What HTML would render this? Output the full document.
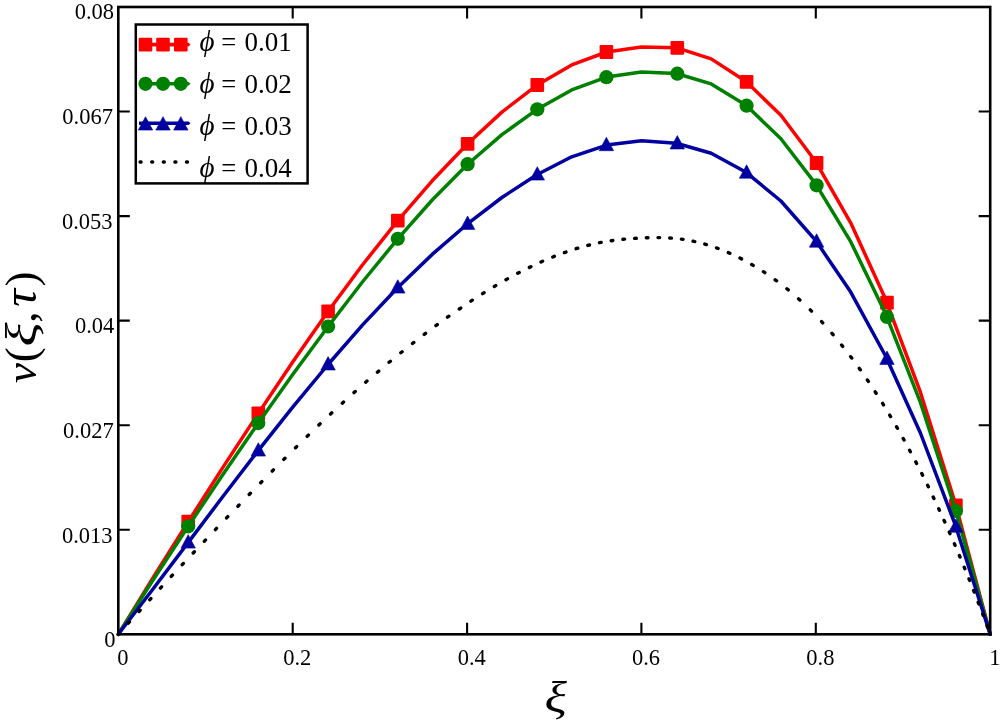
<!DOCTYPE html>
<html lang="en"><head><meta charset="utf-8"><title>v(xi,tau) plot</title>
<style>html,body{margin:0;padding:0;background:#fff}body{width:1002px;height:724px;overflow:hidden}svg{display:block}text{font-family:"Liberation Serif","DejaVu Serif",serif;fill:#000}.tk{font-size:22.5px}.lg{font-size:27px}.it{font-style:italic}</style></head><body>
<svg width="1002" height="724" viewBox="0 0 1002 724">
<rect width="1002" height="724" fill="#fff"/>
<path d="M118.3 634.3 L153.2 577.5 L188.1 521.9 L222.9 467.4 L257.8 414.1 L292.7 362.0 L327.6 312.0 L362.4 265.0 L397.3 221.2 L432.2 180.8 L467.1 144.3 L501.9 112.1 L536.8 85.3 L571.7 64.9 L606.6 52.0 L641.4 46.9 L676.3 47.7 L711.2 58.9 L746.1 81.5 L780.9 115.3 L815.8 161.8 L850.7 222.8 L885.6 299.3 L920.4 392.2 L955.3 503.3 L990.2 634.3" fill="none" stroke="#ff0000" stroke-width="3.5" stroke-linejoin="round" stroke-linecap="round"/>
<rect x="181.4" y="514.8" width="13.6" height="13.8" rx="1.2" fill="#ff0000"/>
<rect x="251.5" y="406.4" width="13.6" height="13.8" rx="1.2" fill="#ff0000"/>
<rect x="321.3" y="304.4" width="13.6" height="13.8" rx="1.2" fill="#ff0000"/>
<rect x="391.0" y="213.7" width="13.6" height="13.8" rx="1.2" fill="#ff0000"/>
<rect x="460.8" y="136.9" width="13.6" height="13.8" rx="1.2" fill="#ff0000"/>
<rect x="530.5" y="78.1" width="13.6" height="13.8" rx="1.2" fill="#ff0000"/>
<rect x="599.6" y="45.1" width="13.6" height="13.8" rx="1.2" fill="#ff0000"/>
<rect x="670.5" y="41.0" width="13.6" height="13.8" rx="1.2" fill="#ff0000"/>
<rect x="739.8" y="75.0" width="13.6" height="13.8" rx="1.2" fill="#ff0000"/>
<rect x="809.8" y="156.1" width="13.6" height="13.8" rx="1.2" fill="#ff0000"/>
<rect x="880.2" y="295.8" width="13.6" height="13.8" rx="1.2" fill="#ff0000"/>
<rect x="949.1" y="498.5" width="13.6" height="13.8" rx="1.2" fill="#ff0000"/>
<path d="M118.3 634.3 L153.2 579.8 L188.1 526.5 L222.9 474.5 L257.8 423.8 L292.7 374.6 L327.6 327.2 L362.4 282.0 L397.3 239.4 L432.2 200.0 L467.1 164.7 L501.9 134.6 L536.8 109.6 L571.7 89.9 L606.6 77.1 L641.4 72.1 L676.3 73.5 L711.2 83.9 L746.1 105.3 L780.9 138.7 L815.8 184.1 L850.7 241.7 L885.6 313.7 L920.4 402.4 L955.3 509.0 L990.2 634.3" fill="none" stroke="#008000" stroke-width="3.5" stroke-linejoin="round" stroke-linecap="round"/>
<circle cx="188.2" cy="526.3" r="7.1" fill="#008000"/>
<circle cx="258.3" cy="423.1" r="7.1" fill="#008000"/>
<circle cx="328.1" cy="326.5" r="7.1" fill="#008000"/>
<circle cx="397.8" cy="238.8" r="7.1" fill="#008000"/>
<circle cx="467.6" cy="164.2" r="7.1" fill="#008000"/>
<circle cx="537.3" cy="109.3" r="7.1" fill="#008000"/>
<circle cx="606.4" cy="77.2" r="7.1" fill="#008000"/>
<circle cx="677.3" cy="73.7" r="7.1" fill="#008000"/>
<circle cx="746.6" cy="105.7" r="7.1" fill="#008000"/>
<circle cx="816.6" cy="185.3" r="7.1" fill="#008000"/>
<circle cx="887.0" cy="316.9" r="7.1" fill="#008000"/>
<circle cx="955.9" cy="511.0" r="7.1" fill="#008000"/>
<path d="M118.3 634.3 L153.2 588.8 L188.1 542.6 L222.9 496.5 L257.8 451.1 L292.7 407.1 L327.6 365.0 L362.4 325.1 L397.3 288.0 L432.2 254.4 L467.1 224.2 L501.9 197.5 L536.8 174.8 L571.7 156.8 L606.6 145.1 L641.4 140.8 L676.3 143.2 L711.2 153.3 L746.1 172.3 L780.9 201.0 L815.8 240.6 L850.7 292.1 L885.6 356.0 L920.4 433.0 L955.3 525.0 L990.2 634.3" fill="none" stroke="#0000a0" stroke-width="3.5" stroke-linejoin="round" stroke-linecap="round"/>
<path d="M181.0 548.1 L195.4 548.1 L188.2 534.7 Z" fill="#0000a0" stroke="#0000a0" stroke-width="0.6" stroke-linejoin="round"/>
<path d="M251.1 456.1 L265.5 456.1 L258.3 442.7 Z" fill="#0000a0" stroke="#0000a0" stroke-width="0.6" stroke-linejoin="round"/>
<path d="M320.9 370.0 L335.3 370.0 L328.1 356.6 Z" fill="#0000a0" stroke="#0000a0" stroke-width="0.6" stroke-linejoin="round"/>
<path d="M390.6 293.1 L405.0 293.1 L397.8 279.7 Z" fill="#0000a0" stroke="#0000a0" stroke-width="0.6" stroke-linejoin="round"/>
<path d="M460.4 229.4 L474.8 229.4 L467.6 216.0 Z" fill="#0000a0" stroke="#0000a0" stroke-width="0.6" stroke-linejoin="round"/>
<path d="M530.1 180.1 L544.5 180.1 L537.3 166.7 Z" fill="#0000a0" stroke="#0000a0" stroke-width="0.6" stroke-linejoin="round"/>
<path d="M599.2 150.7 L613.6 150.7 L606.4 137.3 Z" fill="#0000a0" stroke="#0000a0" stroke-width="0.6" stroke-linejoin="round"/>
<path d="M670.1 149.0 L684.5 149.0 L677.3 135.6 Z" fill="#0000a0" stroke="#0000a0" stroke-width="0.6" stroke-linejoin="round"/>
<path d="M739.4 178.2 L753.8 178.2 L746.6 164.8 Z" fill="#0000a0" stroke="#0000a0" stroke-width="0.6" stroke-linejoin="round"/>
<path d="M809.4 247.2 L823.8 247.2 L816.6 233.8 Z" fill="#0000a0" stroke="#0000a0" stroke-width="0.6" stroke-linejoin="round"/>
<path d="M879.8 364.4 L894.2 364.4 L887.0 351.0 Z" fill="#0000a0" stroke="#0000a0" stroke-width="0.6" stroke-linejoin="round"/>
<path d="M948.7 532.3 L963.1 532.3 L955.9 518.9 Z" fill="#0000a0" stroke="#0000a0" stroke-width="0.6" stroke-linejoin="round"/>
<path d="M128.3 623.2l1.14 -1.26M139.0 611.5l1.15 -1.26M149.7 599.8l1.15 -1.25M160.4 588.1l1.15 -1.25M171.3 576.4l1.16 -1.24M182.2 564.7l1.16 -1.24M193.2 553.0l1.17 -1.24M204.3 541.3l1.17 -1.23M215.4 529.6l1.17 -1.23M226.6 517.9l1.18 -1.23M237.9 506.2l1.18 -1.22M249.2 494.5l1.19 -1.22M260.7 482.8l1.19 -1.21M272.2 471.1l1.20 -1.21M283.8 459.4l1.20 -1.20M295.5 447.8l1.21 -1.19M307.2 436.3l1.22 -1.18M318.9 425.0l1.23 -1.17M330.6 414.0l1.24 -1.16M342.3 403.2l1.26 -1.15M354.0 392.6l1.27 -1.13M365.7 382.2l1.28 -1.12M377.4 372.2l1.30 -1.10M389.1 362.3l1.31 -1.08M400.8 352.8l1.32 -1.07M412.5 343.5l1.34 -1.05M424.2 334.4l1.35 -1.03M435.9 325.6l1.37 -1.01M447.5 317.2l1.39 -0.98M459.3 309.0l1.40 -0.96M470.9 301.1l1.42 -0.93M482.6 293.6l1.44 -0.90M494.3 286.5l1.46 -0.87M506.0 279.7l1.48 -0.83M517.7 273.3l1.51 -0.79M529.4 267.4l1.53 -0.74M541.0 262.0l1.55 -0.69M552.8 257.0l1.58 -0.63M564.4 252.6l1.60 -0.57M576.1 248.7l1.63 -0.49M587.8 245.4l1.65 -0.42M599.5 242.7l1.67 -0.33M611.2 240.7l1.68 -0.24M622.9 239.3l1.69 -0.16M634.6 238.4l1.70 -0.10M646.3 237.8l1.70 -0.06M658.0 237.6l1.70 0.01M669.7 238.0l1.70 0.12M681.4 239.1l1.68 0.24M693.1 241.2l1.66 0.36M704.8 244.1l1.63 0.48M716.5 247.9l1.60 0.59M728.3 252.6l1.56 0.68M740.0 258.1l1.51 0.77M751.7 264.5l1.47 0.85M763.4 271.7l1.42 0.93M775.2 279.8l1.37 1.01M786.9 288.8l1.32 1.08M798.6 298.9l1.26 1.14M810.3 309.9l1.20 1.20M821.6 321.6l1.15 1.25M832.0 333.3l1.10 1.29M841.6 345.0l1.06 1.33M850.7 356.7l1.02 1.36M859.3 368.4l0.99 1.39M867.4 380.0l0.95 1.41M875.2 391.8l0.92 1.43M882.6 403.4l0.90 1.44M889.7 415.1l0.87 1.46M896.6 426.8l0.85 1.47M903.2 438.5l0.82 1.49M909.6 450.2l0.80 1.50M915.8 461.9l0.78 1.51M921.8 473.6l0.77 1.52M927.6 485.3l0.75 1.53M933.2 497.0l0.73 1.54M938.7 508.7l0.71 1.54M944.1 520.4l0.70 1.55M949.3 532.1l0.68 1.56M954.4 543.8l0.67 1.56M959.4 555.5l0.66 1.57M964.2 567.2l0.64 1.57M969.0 578.9l0.63 1.58M973.6 590.5l0.62 1.58M978.2 602.3l0.61 1.59M982.7 614.0l0.60 1.59M987.0 625.7l0.59 1.59" fill="none" stroke="#000000" stroke-width="3.4" stroke-linecap="round"/>
<rect x="118.3" y="7.0" width="871.9" height="627.3" fill="none" stroke="#000" stroke-width="2.6"/>
<path d="M292.7 634.3 V622.8 M292.7 7.0 V18.5 M467.1 634.3 V622.8 M467.1 7.0 V18.5 M641.4 634.3 V622.8 M641.4 7.0 V18.5 M815.8 634.3 V622.8 M815.8 7.0 V18.5 M118.3 529.8 H129.8 M990.2 529.8 H978.7 M118.3 425.2 H129.8 M990.2 425.2 H978.7 M118.3 320.6 H129.8 M990.2 320.6 H978.7 M118.3 216.1 H129.8 M990.2 216.1 H978.7 M118.3 111.5 H129.8 M990.2 111.5 H978.7" stroke="#000" stroke-width="2.1" fill="none"/>
<text class="tk" x="115.5" y="647.1" text-anchor="end">0</text>
<text class="tk" x="112.6" y="542.5" text-anchor="end">0.013</text>
<text class="tk" x="113.7" y="438.0" text-anchor="end">0.027</text>
<text class="tk" x="114.3" y="333.4" text-anchor="end">0.04</text>
<text class="tk" x="112.6" y="228.9" text-anchor="end">0.053</text>
<text class="tk" x="112.9" y="124.3" text-anchor="end">0.067</text>
<text class="tk" x="114.0" y="18.6" text-anchor="end">0.08</text>
<text class="tk" x="122.9" y="664.5" text-anchor="middle">0</text>
<text class="tk" x="297.3" y="664.5" text-anchor="middle">0.2</text>
<text class="tk" x="471.7" y="664.5" text-anchor="middle">0.4</text>
<text class="tk" x="646.0" y="664.5" text-anchor="middle">0.6</text>
<text class="tk" x="820.4" y="664.5" text-anchor="middle">0.8</text>
<text class="tk" x="994.8" y="664.5" text-anchor="middle">1</text>
<text class="it" font-size="43.5" transform="translate(555.7 712.3) scale(1.2 1)" text-anchor="middle">ξ</text>
<g transform="translate(35.7 0) rotate(-90)" font-size="45" text-anchor="middle">
<text class="it" transform="translate(-373.0 0) scale(1.0 1)">ν</text>
<text transform="translate(-354.8 0) scale(1.0 1)">(</text>
<text class="it" transform="translate(-334.4 0) scale(1.25 1)">ξ</text>
<text transform="translate(-317.2 0) scale(1.0 1)">,</text>
<text class="it" font-size="49.5" transform="translate(-298.0 0) scale(1.0 1)">τ</text>
<text transform="translate(-279.1 0) scale(1.0 1)">)</text>
</g>
<rect x="135.8" y="24.5" width="171.8" height="158.9" fill="#fff" stroke="#000" stroke-width="2.5"/>
<path d="M139 42.800000000000004 H188.5 L190.5 44.6 L188.5 46.4 H139 Z" fill="#ff0000"/>
<rect x="138.7" y="37.7" width="13.6" height="13.8" rx="1.2" fill="#ff0000"/>
<rect x="156.2" y="37.7" width="13.6" height="13.8" rx="1.2" fill="#ff0000"/>
<rect x="174.0" y="37.7" width="13.6" height="13.8" rx="1.2" fill="#ff0000"/>
<text class="lg" y="50.8"><tspan class="it" x="199.5" font-size="29">ϕ</tspan><tspan x="221.3" textLength="15" lengthAdjust="spacingAndGlyphs">=</tspan><tspan x="244.5">0.01</tspan></text>
<path d="M139 82.0 H188.5 L190.5 83.8 L188.5 85.6 H139 Z" fill="#008000"/>
<circle cx="145.5" cy="83.8" r="7.1" fill="#008000"/>
<circle cx="163.0" cy="83.8" r="7.1" fill="#008000"/>
<circle cx="180.8" cy="83.8" r="7.1" fill="#008000"/>
<text class="lg" y="92.8"><tspan class="it" x="199.5" font-size="29">ϕ</tspan><tspan x="221.3" textLength="15" lengthAdjust="spacingAndGlyphs">=</tspan><tspan x="244.5">0.02</tspan></text>
<path d="M139 121.4 H188.5 L190.5 123.2 L188.5 125.0 H139 Z" fill="#0000a0"/>
<path d="M138.3 130.1 L152.7 130.1 L145.5 116.7 Z" fill="#0000a0" stroke="#0000a0" stroke-width="0.6" stroke-linejoin="round"/>
<path d="M155.8 130.1 L170.2 130.1 L163.0 116.7 Z" fill="#0000a0" stroke="#0000a0" stroke-width="0.6" stroke-linejoin="round"/>
<path d="M173.6 130.1 L188.0 130.1 L180.8 116.7 Z" fill="#0000a0" stroke="#0000a0" stroke-width="0.6" stroke-linejoin="round"/>
<text class="lg" y="135.0"><tspan class="it" x="199.5" font-size="29">ϕ</tspan><tspan x="221.3" textLength="15" lengthAdjust="spacingAndGlyphs">=</tspan><tspan x="244.5">0.03</tspan></text>
<path d="M140.1 162.0h1.0M151.7 162.0h1.0M163.3 162.0h1.0M174.9 162.0h1.0M186.5 162.0h1.0" stroke="#000000" stroke-width="3.4" stroke-linecap="round" fill="none"/>
<text class="lg" y="177.3"><tspan class="it" x="199.5" font-size="29">ϕ</tspan><tspan x="221.3" textLength="15" lengthAdjust="spacingAndGlyphs">=</tspan><tspan x="244.5">0.04</tspan></text>
</svg></body></html>
